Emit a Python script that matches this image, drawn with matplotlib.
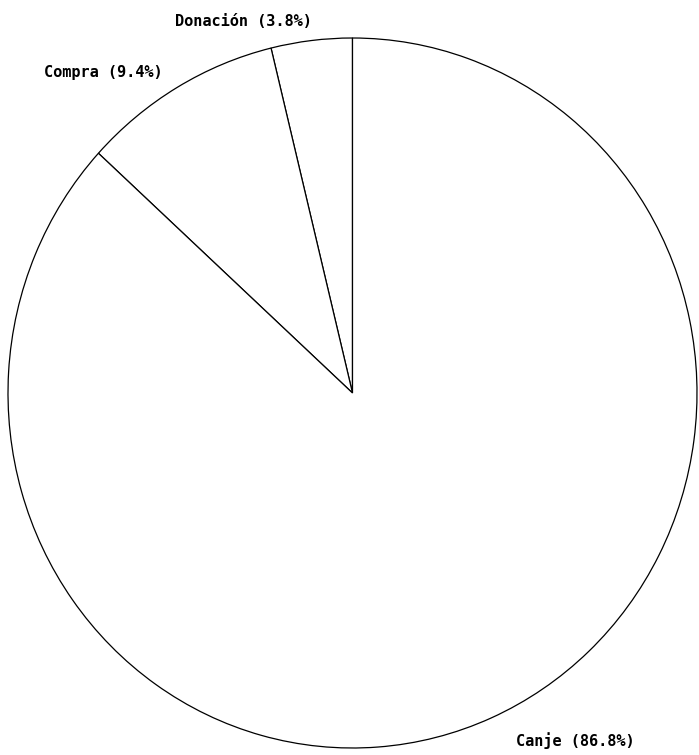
import matplotlib.pyplot as plt

# wedge data (counterclockwise from the top)
labels = ['Donación', 'Compra', 'Canje']
shares = [3.8, 9.4, 86.8]
label_texts = [f'{name} ({v:.1f}%)' for name, v in zip(labels, shares)]

fig = plt.figure(figsize=(6.99, 7.55), dpi=100)
ax = fig.add_axes([8 / 699, 7 / 755, 689 / 699, 710 / 755])

wedges, texts = ax.pie(
    shares,
    labels=label_texts,
    startangle=90,
    counterclock=True,
    colors=['white'] * len(shares),
    wedgeprops=dict(edgecolor='black', linewidth=0.9),
    labeldistance=1.08,
    textprops=dict(family='DejaVu Sans Mono', fontsize=11, fontweight='bold'),
)
# small nudges so the labels sit where the original put them
x0, y0 = texts[0].get_position()
texts[0].set_position((x0 + 0.01, y0 - 0.025))
x1, y1 = texts[1].get_position()
texts[1].set_position((x1, y1 - 0.028))
x2, y2 = texts[2].get_position()
texts[2].set_position((x2 + 0.04, y2 + 0.008))

# stretch slightly like the original (not perfectly round)
ax.set_aspect('auto')
ax.set_xlim(-1, 1)
ax.set_ylim(-1, 1)
ax.axis('off')

fig.savefig('out.png', dpi=100)
